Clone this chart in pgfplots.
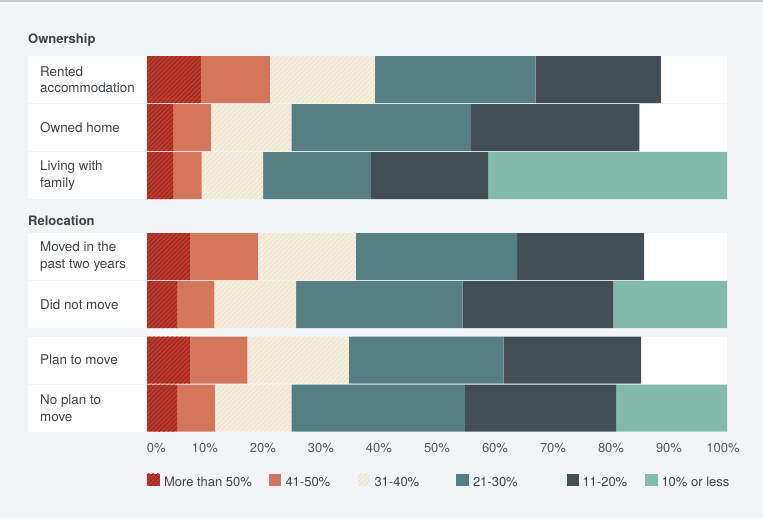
\documentclass[border=0pt]{standalone}
\usepackage{fontspec}
\setmainfont{TeX Gyre Heros}
\usepackage{pgfplots}
\pgfplotsset{compat=1.18}
\usepackage{pgfplotstable}
\usetikzlibrary{patterns.meta}
\definecolor{bgc}{HTML}{F3F4F6}
\definecolor{topl}{HTML}{C9CBCE}
\definecolor{cred}{HTML}{BE3A2E}
\definecolor{chatch}{HTML}{96271E}
\definecolor{csal}{HTML}{D4765A}
\definecolor{ccream}{HTML}{F5EFDE}
\definecolor{ccreamh}{HTML}{E9DFC4}
\definecolor{cteal}{HTML}{557F82}
\definecolor{cdark}{HTML}{434F54}
\definecolor{clteal}{HTML}{82BBAC}
\definecolor{txt}{HTML}{3C4347}
\newcommand\lbl{\fontsize{13bp}{16.5bp}\selectfont}
\newcommand\rlbl{\fontsize{13.4bp}{16.6bp}\selectfont}
\pgfplotstableread{
y s1 s2 s3 s4 s5 s6
438.5 9.3 11.9 18.1 27.7 21.6 0
390.5 4.5 6.5 13.9 31.0 29.0 0
342.5 4.5 4.9 10.6 18.6 20.2 41.2
261.5 7.4 11.7 16.9 27.8 21.9 0
213.5 5.2 6.4 14.1 28.7 26.0 19.6
158 7.4 9.9 17.5 26.7 23.7 0
110 5.2 6.5 13.2 29.9 26.1 19.1
}\data
\pgfplotsset{sq/.style={draw=none, legend image code/.code={\fill[##1] (0bp,-3bp) rectangle (12.5bp,9bp);}}}
\begin{document}
\begin{tikzpicture}
\begin{scope}[x=1bp,y=-1bp,shift={(-147bp,518bp)}]
\fill[bgc] (0,0) rectangle (763,518);
\useasboundingbox (0,0) rectangle (763,518);
\fill[topl] (0,0) rectangle (763,2);
\foreach \t/\b in {56/103, 104/151, 152/199, 233/280, 281/328, 336.5/383.5, 384.5/431.5}
  \fill[white] (28,\t) rectangle (727,\b);
\end{scope}
\begin{axis}[
  at={(0,0)}, anchor=south west,
  scale only axis, width=580bp, height=518bp,
  xmin=0, xmax=100, ymin=0, ymax=518,
  xbar stacked, bar width=47bp,
  axis line style={draw=none}, major tick length=0pt,
  xtick={1.6,10,20,30,40,50,60,70,80,90,99.3},
  xticklabels={0\%,10\%,20\%,30\%,40\%,50\%,60\%,70\%,80\%,90\%,100\%},
  xticklabel style={anchor=base, yshift=66bp, font=\lbl, text=txt!90},
  ytick={110,158,213.5,261.5,342.5,390.5,438.5},
  yticklabels={{No plan to\\move},{Plan to move},{Did not move},{Moved in the\\past two years},{Living with\\family},{Owned home},{Rented\\accommodation}},
  yticklabel style={anchor=west, align=left, xshift=-107bp, inner sep=0pt, font=\rlbl, text=txt},
  legend style={at={(0,0.0719)}, anchor=west, draw=none, fill=none, inner sep=0pt, outer sep=0pt,
    column sep=0pt, font=\lbl, text=txt, nodes={inner sep=0pt, outer sep=0pt}},
  legend columns=6, legend cell align=left,
]
\addplot[sq, fill=cred, postaction={pattern={Lines[angle=45,distance=3.2bp,line width=0.9bp]}, pattern color=chatch}] table[x=s1,y=y]{\data};
\addlegendentry{\makebox[109bp][l]{\hspace{4.5bp}More than 50\%}}
\addplot[sq, fill=csal] table[x=s2,y=y]{\data};
\addlegendentry{\makebox[76.5bp][l]{\hspace{4.5bp}41-50\%}}
\addplot[sq, fill=ccream, postaction={pattern={Lines[angle=45,distance=3.5bp,line width=0.6bp]}, pattern color=ccreamh}] table[x=s3,y=y]{\data};
\addlegendentry{\makebox[86bp][l]{\hspace{4.5bp}31-40\%}}
\addplot[sq, fill=cteal] table[x=s4,y=y]{\data};
\addlegendentry{\makebox[98bp][l]{\hspace{4.5bp}21-30\%}}
\addplot[sq, fill=cdark] table[x=s5,y=y]{\data};
\addlegendentry{\makebox[66bp][l]{\hspace{3.5bp}11-20\%}}
\addplot[sq, fill=clteal] table[x=s6,y=y]{\data};
\addlegendentry{\hspace{4bp}10\% or less}
\end{axis}
\begin{scope}[x=1bp,y=-1bp,shift={(-147bp,518bp)}]
\node[anchor=base west, inner sep=0pt, font=\lbl\bfseries, text=txt] at (28,43) {Ownership};
\node[anchor=base west, inner sep=0pt, font=\lbl\bfseries, text=txt] at (28,225) {Relocation};
\end{scope}
\end{tikzpicture}
\end{document}
